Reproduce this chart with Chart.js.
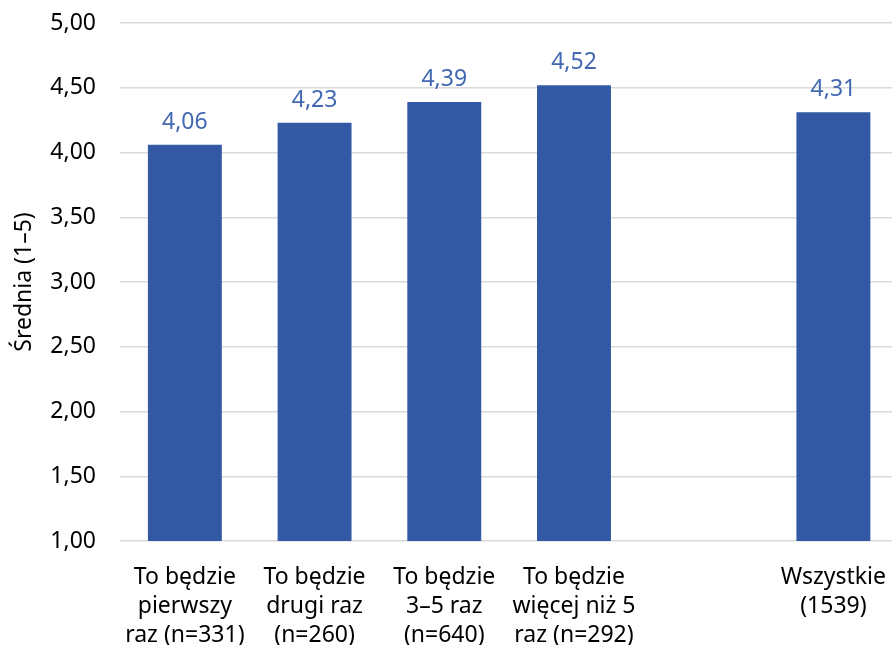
<!DOCTYPE html>
<html>
<head>
<meta charset="utf-8">
<script src="https://cdn.jsdelivr.net/npm/chart.js@4"></script>
<style>
  html, body { margin: 0; padding: 0; background: #fff; overflow: hidden; }
  #wrap { width: 900px; height: 645px; }
</style>
</head>
<body>
<div id="wrap"><canvas id="chart"></canvas></div>
<script>
// ---------- data ----------
const categories = [
  ["To będzie", "pierwszy", "raz (n=331)"],
  ["To będzie", "drugi raz", "(n=260)"],
  ["To będzie", "3–5 raz", "(n=640)"],
  ["To będzie", "więcej niż 5", "raz (n=292)"],
  "",
  ["Wszystkie", "(1539)"],
];
const means = [4.06, 4.23, 4.39, 4.52, null, 4.31];
const yMin = 1;
const yMax = 5;
const yStep = 0.5;

const fmt = (v) => v.toFixed(2).replace(".", ",");
const FONT = "'Noto Sans', 'Open Sans', sans-serif";

// small inline plugin for the value labels above bars
const valueLabels = {
  id: "valueLabels",
  afterDatasetsDraw(chart) {
    const ctx = chart.ctx;
    const meta = chart.getDatasetMeta(0);
    ctx.save();
    ctx.font = "23px " + FONT;
    ctx.fillStyle = "#4268b2";
    ctx.textAlign = "center";
    ctx.textBaseline = "bottom";
    meta.data.forEach((bar, i) => {
      if (means[i] == null) return;
      ctx.fillText(fmt(means[i]), bar.x, bar.y - 11);
    });
    ctx.restore();
  },
};

new Chart(document.getElementById("chart"), {
  type: "bar",
  data: {
    labels: categories,
    datasets: [
      {
        data: means,
        backgroundColor: "#3359a4",
        barPercentage: 0.57,
        categoryPercentage: 1,
      },
    ],
  },
  options: {
    responsive: true,
    maintainAspectRatio: false,
    animation: false,
    layout: { padding: { top: 23, right: 0, left: 0, bottom: 0 } },
    plugins: {
      legend: { display: false },
      tooltip: { enabled: false },
    },
    scales: {
      x: {
        grid: { display: false },
        border: { display: false },
        ticks: {
          color: "#000",
          font: { family: FONT, size: 23, lineHeight: 1.26 },
          padding: 14,
          maxRotation: 0,
          autoSkip: false,
        },
        afterFit(scale) { scale.height = 104; },
      },
      y: {
        min: yMin,
        max: yMax,
        grid: { color: "#d9d9d9", lineWidth: 1.5, drawTicks: false },
        border: { display: false },
        ticks: {
          stepSize: yStep,
          color: "#000",
          font: { family: FONT, size: 23 },
          padding: 24,
          callback: (v) => fmt(v),
        },
        title: {
          display: true,
          text: "Średnia (1–5)",
          color: "#000",
          font: { family: FONT, size: 23 },
          padding: { top: 11, bottom: 0 },
        },
        afterFit(scale) {
          scale.width = 120;
          scale.paddingTop = 0;
          scale.paddingBottom = 0;
        },
      },
    },
  },
  plugins: [valueLabels],
});
</script>
</body>
</html>
